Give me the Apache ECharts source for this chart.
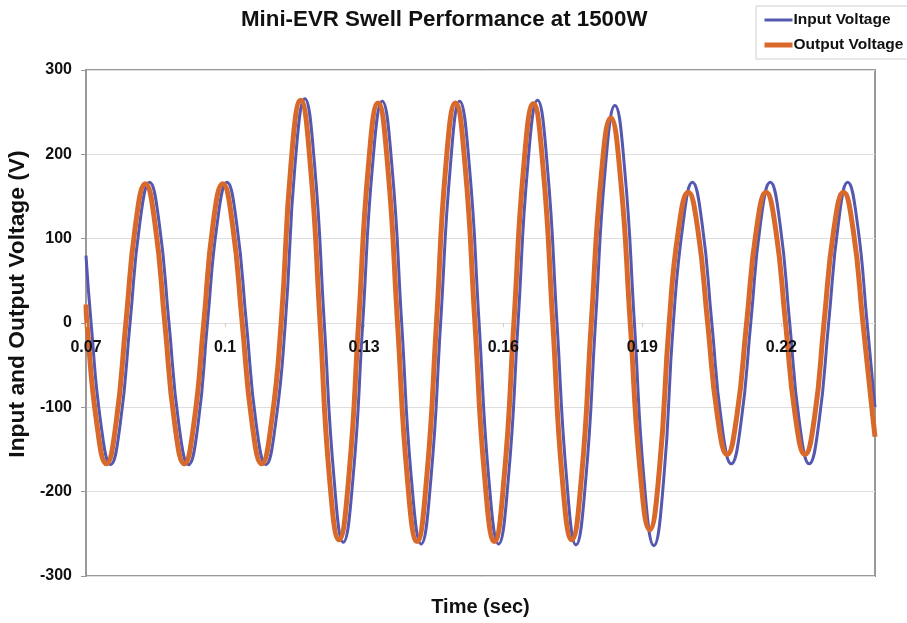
<!DOCTYPE html>
<html>
<head>
<meta charset="utf-8">
<script src="https://cdn.jsdelivr.net/npm/echarts@6/dist/echarts.min.js"></script>
<style>html,body{margin:0;padding:0;background:#fff;overflow:hidden;}#c{width:907px;height:623px;}</style>
</head>
<body>
<div id="c"></div>
<script>
const xTickLabels = [0.07, 0.1, 0.13, 0.16, 0.19, 0.22];
const yTicks = [-300, -200, -100, 0, 100, 200, 300];

const inputTime = [
  0.0700, 0.0711, 0.0732, 0.0753, 0.0774, 0.0795, 0.0816, 0.0837, 0.0858, 0.0879,
  0.0900, 0.0921, 0.0942, 0.0962, 0.0983, 0.1004, 0.1025, 0.1046, 0.1067, 0.1088,
  0.1109, 0.1130, 0.1151, 0.1172, 0.1193, 0.1214, 0.1235, 0.1255, 0.1276, 0.1297,
  0.1318, 0.1339, 0.1360, 0.1381, 0.1402, 0.1423, 0.1444, 0.1465, 0.1486, 0.1506,
  0.1527, 0.1548, 0.1569, 0.1590, 0.1611, 0.1632, 0.1653, 0.1674, 0.1695, 0.1716,
  0.1737, 0.1757, 0.1778, 0.1799, 0.1820, 0.1841, 0.1862, 0.1883, 0.1904, 0.1925,
  0.1946, 0.1967, 0.1988, 0.2008, 0.2029, 0.2050, 0.2071, 0.2092, 0.2113, 0.2134,
  0.2155, 0.2176, 0.2197, 0.2218, 0.2239, 0.2260, 0.2281, 0.2302, 0.2323, 0.2343,
  0.2364, 0.2385, 0.2402
];
const inputVolt = [
  80, 0, -119, -168, -119, 0, 118, 167, 118, 0,
  -119, -168, -119, 0, 118, 167, 118, 0, -119, -168,
  -119, 0, 188, 266, 188, 0, -184, -260, -184, 0,
  186, 263, 186, 0, -185, -262, -185, 0, 186, 263,
  186, 0, -185, -262, -185, 0, 187, 264, 187, 0,
  -186, -263, -186, 0, 182, 258, 182, 0, -187, -264,
  -187, 0, 118, 167, 118, 0, -118, -167, -118, 0,
  118, 167, 118, 0, -118, -167, -118, 0, 118, 167,
  118, 0, -100
];

const outputTime = [
  0.0700, 0.0702, 0.0723, 0.0744, 0.0765, 0.0786, 0.0807, 0.0828, 0.0849, 0.0870,
  0.0891, 0.0912, 0.0933, 0.0954, 0.0974, 0.0995, 0.1016, 0.1037, 0.1058, 0.1079,
  0.1100, 0.1121, 0.1142, 0.1163, 0.1184, 0.1205, 0.1225, 0.1246, 0.1267, 0.1288,
  0.1309, 0.1330, 0.1351, 0.1372, 0.1393, 0.1414, 0.1435, 0.1456, 0.1476, 0.1497,
  0.1518, 0.1539, 0.1560, 0.1581, 0.1602, 0.1623, 0.1644, 0.1665, 0.1686, 0.1707,
  0.1727, 0.1748, 0.1769, 0.1790, 0.1811, 0.1832, 0.1853, 0.1874, 0.1895, 0.1916,
  0.1937, 0.1958, 0.1978, 0.1999, 0.2020, 0.2041, 0.2062, 0.2083, 0.2104, 0.2125,
  0.2146, 0.2167, 0.2188, 0.2209, 0.2230, 0.2251, 0.2272, 0.2292, 0.2313, 0.2334,
  0.2355, 0.2376, 0.2397, 0.2402
];
const outputVolt = [
  22, 0, -118, -167, -118, 0, 117, 165, 117, 0,
  -118, -167, -118, 0, 117, 165, 117, 0, -118, -167,
  -118, 0, 187, 264, 187, 0, -182, -257, -182, 0,
  185, 261, 185, 0, -183, -259, -183, 0, 185, 261,
  185, 0, -183, -259, -183, 0, 184, 260, 184, 0,
  -182, -257, -182, 0, 172, 243, 172, 0, -173, -245,
  -173, 0, 110, 155, 110, 0, -110, -156, -110, 0,
  110, 155, 110, 0, -110, -156, -110, 0, 110, 155,
  110, 0, -110, -135
];

const FONT = '"Liberation Sans", Arial, sans-serif';
const W = 907, H = 623;
const GRID = {left: 86, right: 32, top: 70, bottom: 47};
const plotH = H - GRID.top - GRID.bottom;
const BLUE = '#5558B0', ORANGE = '#D8692A';

const chart = echarts.init(document.getElementById('c'), null, {renderer: 'canvas', width: W, height: H});
chart.setOption({
  animation: false,
  backgroundColor: '#fff',
  title: {
    text: 'Mini-EVR Swell Performance at 1500W',
    left: 236, top: 4,
    textStyle: {fontFamily: FONT, fontWeight: 'bold', fontSize: 22.3, color: '#111'}
  },
  legend: {
    orient: 'vertical',
    left: 756, top: 6,
    padding: [6, 8, 6, 6],
    itemGap: 9,
    itemWidth: 28, itemHeight: 16,
    borderColor: '#d0d0d0', borderWidth: 1,
    itemStyle: {opacity: 0},
    textStyle: {fontFamily: FONT, fontWeight: 'bold', fontSize: 15.5, color: '#111', padding: [0, 0, 0, -4]},
    data: [
      {name: 'Input Voltage', lineStyle: {width: 3, color: BLUE}},
      {name: 'Output Voltage', lineStyle: {width: 5, color: ORANGE}}
    ]
  },
  grid: Object.assign({show: true, borderColor: '#999', borderWidth: 2, containLabel: false, outerBoundsMode: 'none'}, GRID),
  xAxis: {
    type: 'value', min: 0.07, max: 0.2402,
    position: 'bottom',
    offset: -plotH / 2,
    z: 10,
    name: 'Time (sec)', nameLocation: 'middle', nameGap: plotH / 2 + 21,
    nameTextStyle: {fontFamily: FONT, fontWeight: 'bold', fontSize: 20, color: '#111', verticalAlign: 'top'},
    axisLine: {show: false, onZero: false},
    axisTick: {show: true, length: 4, lineStyle: {color: '#cfcfcf'}, customValues: xTickLabels},
    axisLabel: {fontFamily: FONT, fontWeight: 'bold', fontSize: 16, color: '#111', margin: 17,
      customValues: xTickLabels, showMinLabel: true},
    splitLine: {show: false}
  },
  yAxis: {
    type: 'value', min: yTicks[0], max: yTicks[yTicks.length - 1], interval: 100,
    name: 'Input and Output Voltage (V)', nameLocation: 'middle', nameGap: 49,
    nameTextStyle: {fontFamily: FONT, fontWeight: 'bold', fontSize: 22.8, color: '#111', padding: [0, 0, 0, 38]},
    axisLine: {show: true, lineStyle: {color: '#999', width: 2}},
    axisTick: {show: true, length: 5, lineStyle: {color: '#999'}},
    axisLabel: {fontFamily: FONT, fontWeight: 'bold', fontSize: 16, color: '#111', margin: 14},
    splitLine: {show: true, lineStyle: {color: '#dedede', width: 1}}
  },
  series: [
    {
      name: 'Input Voltage', type: 'line', symbol: 'none', smooth: true,
      lineStyle: {color: BLUE, width: 3}, itemStyle: {color: BLUE},
      data: inputTime.map((t, i) => [t, inputVolt[i]]), z: 2
    },
    {
      name: 'Output Voltage', type: 'line', symbol: 'none', smooth: true,
      lineStyle: {color: ORANGE, width: 5}, itemStyle: {color: ORANGE},
      data: outputTime.map((t, i) => [t, outputVolt[i]]), z: 3
    }
  ]
});
</script>
</body>
</html>
